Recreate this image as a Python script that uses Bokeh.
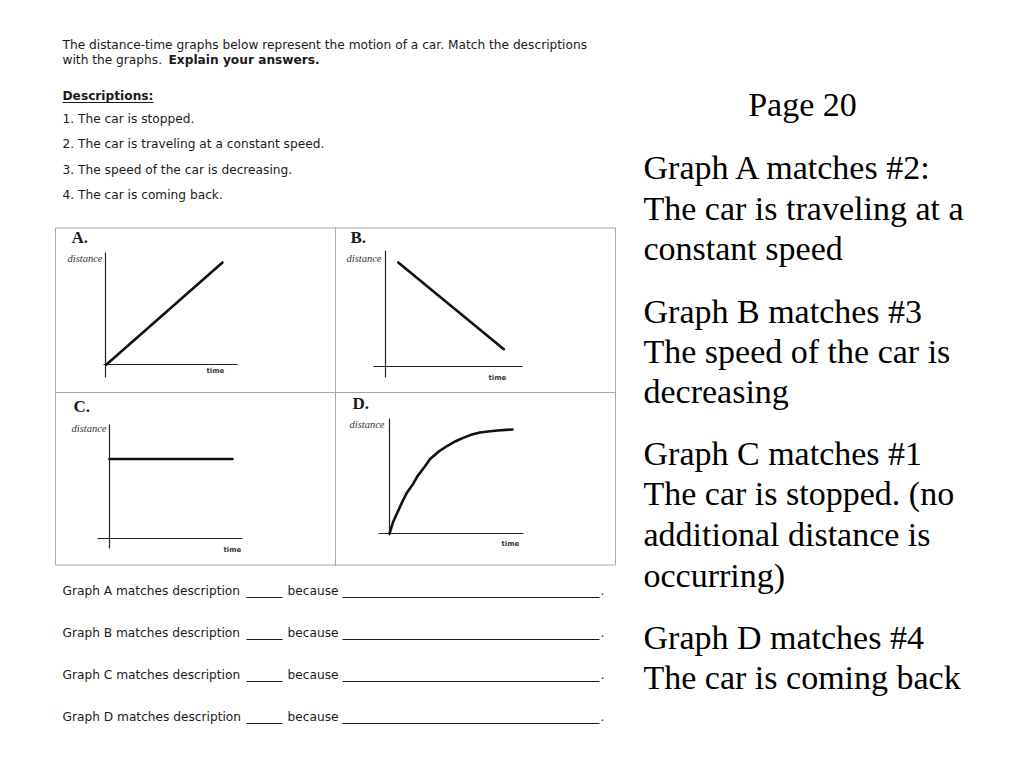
from bokeh.plotting import figure
from bokeh.models import Range1d
from bokeh.core.properties import value
from bokeh.embed import file_html
from bokeh.resources import INLINE

# ---------------- data ----------------
intro_line1 = "The distance-time graphs below represent the motion of a car. Match the descriptions"
intro_line2 = "with the graphs."
intro_bold = "Explain your answers."
desc_title = "Descriptions:"
descriptions = [
    "1. The car is stopped.",
    "2. The car is traveling at a constant speed.",
    "3. The speed of the car is decreasing.",
    "4. The car is coming back.",
]
graph_labels = ["A.", "B.", "C.", "D."]
axis_y_label = "distance"
axis_x_label = "time"

# graph series (time, distance) in graph units
a_time = [0, 10.0]
a_dist = [0, 10.0]
b_time = [1.1, 10.2]
b_dist = [10.2, 1.7]
c_time = [0, 10.6]
c_dist = [7.8, 7.8]
d_time = [0, 0.3, 0.7, 1.1, 1.5, 2.0, 2.4, 3.0, 3.5, 4.2, 5.0, 5.7, 6.4, 7.1, 7.8, 8.5, 9.3, 10.6]
d_dist = [0, 1.1, 2.1, 3.1, 4.0, 4.8, 5.6, 6.5, 7.3, 8.0, 8.6, 9.05, 9.4, 9.7, 9.9, 10.0, 10.1, 10.2]

answer_rows = [
    "Graph A matches description",
    "Graph B matches description",
    "Graph C matches description",
    "Graph D matches description",
]
because_word = "because"

page_title = "Page 20"
right_lines = [
    "Graph A matches #2:",
    "The car is traveling at a",
    "constant speed",
    "Graph B matches #3",
    "The speed of the car is",
    "decreasing",
    "Graph C matches #1",
    "The car is stopped. (no",
    "additional distance is",
    "occurring)",
    "Graph D matches #4",
    "The car is coming back",
]

# ---------------- layout (screen pixel coordinates) ----------------
W, H = 1008, 752
p = figure(width=W, height=H, output_backend="svg", toolbar_location=None,
           x_range=Range1d(0, W), y_range=Range1d(H, 0),
           min_border=0, background_fill_color="white", border_fill_color="white")
p.axis.visible = False
p.grid.visible = False
p.outline_line_color = None

SANS = value("DejaVu Sans")
SERIF = value("Liberation Serif")
TXT = "#1a1a1a"
FS = "12.2px"

# intro text
p.text(x=[62], y=[44], text=[intro_line1], text_font=SANS, text_font_size=FS,
       text_baseline="middle", text_color=TXT)
p.text(x=[62], y=[59], text=[intro_line2], text_font=SANS, text_font_size=FS,
       text_baseline="middle", text_color=TXT)
p.text(x=[168], y=[59], text=[intro_bold], text_font=SANS, text_font_size=FS,
       text_font_style="bold", text_baseline="middle", text_color=TXT)
p.text(x=[62], y=[95], text=[desc_title], text_font=SANS, text_font_size=FS,
       text_font_style="bold", text_baseline="middle", text_color=TXT)
p.segment(x0=[62], y0=[102], x1=[153], y1=[102], line_color=TXT, line_width=1)
p.text(x=[62] * 4, y=[118, 143, 169, 194], text=descriptions, text_font=SANS,
       text_font_size=FS, text_baseline="middle", text_color=TXT)

# grid box
BOX = "#a8a8a8"
p.rect(x=[335], y=[396], width=560, height=337, fill_color=None, line_color=BOX, line_width=1)
p.segment(x0=[335], y0=[227], x1=[335], y1=[565], line_color=BOX, line_width=1)
p.segment(x0=[55], y0=[392], x1=[615], y1=[392], line_color=BOX, line_width=1)

PX_T, PX_D = 11.6, 10.2
panels = [
    dict(org=(106, 364), letter=(71, 237), dlab=(102, 258), yax=(105, 252, 377),
         xax=(364, 103, 237), tlab=(206, 370), t=a_time, d=a_dist),
    dict(org=(385, 366), letter=(350, 237), dlab=(381, 258), yax=(385, 250, 377),
         xax=(366, 373, 522), tlab=(488, 377), t=b_time, d=b_dist),
    dict(org=(109, 538), letter=(73, 406), dlab=(106, 428), yax=(109, 424, 548),
         xax=(538, 97, 242), tlab=(223, 549), t=c_time, d=c_dist),
    dict(org=(389, 533), letter=(352, 403), dlab=(384, 424), yax=(389, 418, 535),
         xax=(533, 378, 523), tlab=(501, 543), t=d_time, d=d_dist),
]
for lab, pn in zip(graph_labels, panels):
    ox, oy = pn["org"]
    p.text(x=[pn["letter"][0]], y=[pn["letter"][1]], text=[lab], text_font=SERIF,
           text_font_size="17px", text_font_style="bold", text_baseline="middle",
           text_color=TXT)
    p.text(x=[pn["dlab"][0]], y=[pn["dlab"][1]], text=[axis_y_label], text_font=SERIF,
           text_font_size="10.5px", text_font_style="italic", text_baseline="middle",
           text_align="right", text_color="#333333")
    p.text(x=[pn["tlab"][0]], y=[pn["tlab"][1]], text=[axis_x_label], text_font=SANS,
           text_font_size="7px", text_font_style="bold", text_baseline="middle",
           text_color="#333333")
    yx, y0, y1 = pn["yax"]
    p.segment(x0=[yx], y0=[y0], x1=[yx], y1=[y1], line_color="#222222", line_width=1.2)
    xy, x0, x1 = pn["xax"]
    p.segment(x0=[x0], y0=[xy], x1=[x1], y1=[xy], line_color="#222222", line_width=1.2)
    xs = [ox + t * PX_T for t in pn["t"]]
    ys = [oy - d * PX_D for d in pn["d"]]
    p.line(x=xs, y=ys, line_color="#111111", line_width=2.6, line_join="round", line_cap="round")

# answer rows
rows_y = [590, 632, 674, 716]
p.text(x=[62] * 4, y=rows_y, text=answer_rows, text_font=SANS, text_font_size=FS,
       text_baseline="middle", text_color=TXT)
p.text(x=[287] * 4, y=rows_y, text=[because_word] * 4, text_font=SANS, text_font_size=FS,
       text_baseline="middle", text_color=TXT)
p.segment(x0=[246] * 4, y0=[y + 7 for y in rows_y], x1=[282] * 4, y1=[y + 7 for y in rows_y],
          line_color=TXT, line_width=1)
p.segment(x0=[342] * 4, y0=[y + 7 for y in rows_y], x1=[599] * 4, y1=[y + 7 for y in rows_y],
          line_color=TXT, line_width=1)
p.text(x=[600] * 4, y=rows_y, text=["."] * 4, text_font=SANS, text_font_size=FS,
       text_baseline="middle", text_color=TXT)

# right column
p.text(x=[802], y=[104], text=[page_title], text_font=SERIF, text_font_size="34px",
       text_align="center", text_baseline="middle", text_color="black")
right_y = [167, 208, 248, 311, 351, 391, 453, 493, 534, 575, 637, 677]
p.text(x=[643] * len(right_lines), y=right_y, text=right_lines, text_font=SERIF,
       text_font_size="34px", text_baseline="middle", text_color="black")

open("out.html", "w").write(file_html(p, INLINE))
